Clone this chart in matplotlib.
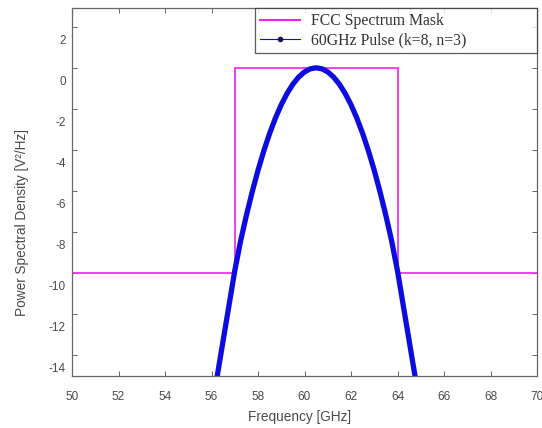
import matplotlib
matplotlib.use("Agg")
import matplotlib.pyplot as plt
from matplotlib.lines import Line2D
from matplotlib.transforms import ScaledTranslation

# FCC 60 GHz spectrum mask (normalised, dB)
mask_freq = [50.0, 57.0, 57.0, 64.0, 64.0, 70.0]
mask_level = [-10.0, -10.0, 0.0, 0.0, -10.0, -10.0]

# Power spectral density of the 60 GHz pulse (k=8, n=3)
pulse_freq = [56.0, 56.25, 56.5, 56.75, 57.0, 57.25, 57.5, 57.75, 58.0, 58.25,
              58.5, 58.75, 59.0, 59.25, 59.5, 59.75, 60.0, 60.25, 60.5, 60.75,
              61.0, 61.25, 61.5, 61.75, 62.0, 62.25, 62.5, 62.75, 63.0, 63.25,
              63.5, 63.75, 64.0, 64.25, 64.5, 64.75, 65.0]
pulse_psd = [-16.6, -15.0, -13.3, -11.6, -9.9, -8.45, -7.2, -6.05, -5.0, -4.05,
             -3.2, -2.45, -1.8, -1.25, -0.8, -0.45, -0.2, -0.05, 0.0, -0.05,
             -0.2, -0.45, -0.8, -1.25, -1.8, -2.45, -3.2, -4.05, -5.0, -6.05,
             -7.2, -8.45, -9.9, -11.6, -13.3, -15.0, -16.6]

x_ticks = [50, 52, 54, 56, 58, 60, 62, 64, 66, 68, 70]
y_ticks = [2, 0, -2, -4, -6, -8, -10, -12, -14]

mask_label = "FCC Spectrum Mask"
pulse_label = "60GHz Pulse (k=8, n=3)"

W, H, DPI = 542, 428, 100
fig = plt.figure(figsize=(W / DPI, H / DPI), dpi=DPI, facecolor="white")
ax = fig.add_axes([72 / W, 1 - 375.5 / H, 465 / W, 367.2 / H])

text_col = "#4a4a4a"
axis_col = "#666666"
mask_col = "#f020f0"
pulse_col = "#0c0ce0"

ax.plot(mask_freq, mask_level, color=mask_col, lw=1.2, solid_joinstyle="miter")
ax.plot(pulse_freq, pulse_psd, color=pulse_col, lw=3.8, solid_capstyle="butt")

ax.set_xlim(50, 70)
ax.set_ylim(-15, 2.9)
ax.set_xticks(x_ticks)
ax.set_xticklabels([str(t) for t in x_ticks])
ax.set_yticks(y_ticks)
ax.set_yticklabels([str(t) for t in y_ticks])

for s in ax.spines.values():
    s.set_color(axis_col)
    s.set_linewidth(0.9)

ax.tick_params(axis="both", direction="in", length=3.5, width=0.7,
               color=axis_col, labelcolor=text_col, labelsize=8.5,
               top=True, right=True)
ax.tick_params(axis="x", pad=11)
ax.tick_params(axis="y", pad=4.5)

for t in ax.get_xticklabels() + ax.get_yticklabels():
    t.set_family("Liberation Sans")

# y tick labels sit a little below their tick marks
shift = ScaledTranslation(0, -13 / DPI, fig.dpi_scale_trans)
for t in ax.get_yticklabels():
    t.set_transform(t.get_transform() + shift)

ax.set_xlabel("Frequency [GHz]", fontsize=9.8, color=text_col,
              family="Liberation Sans")
ax.set_ylabel("Power Spectral Density [V\u00b2/Hz]", fontsize=9.8,
              color=text_col, family="Liberation Sans")
ax.xaxis.set_label_coords(0.49, -0.113)
ax.xaxis.label.set_va("center")
ax.yaxis.set_label_coords(-0.107, 0.418)
ax.yaxis.label.set_va("center")

handles = [
    Line2D([], [], color=mask_col, lw=1.5),
    Line2D([], [], color=pulse_col, lw=0.8, marker=".", markersize=6,
           markerfacecolor="#101060", markeredgecolor="#101060"),
]
leg = ax.legend(handles, [mask_label, pulse_label], loc="upper right",
                bbox_to_anchor=(0.3935, 0.878, 0.6065, 0.122), mode="expand",
                borderaxespad=0, fancybox=False, frameon=True, numpoints=1,
                handlelength=2.6, handletextpad=0.7, borderpad=0.3,
                labelspacing=0.22,
                prop={"family": "Liberation Serif", "size": 11.3})
leg.get_frame().set_edgecolor("#333333")
leg.get_frame().set_linewidth(0.9)
for t in leg.get_texts():
    t.set_color("#333333")

fig.savefig("out.png", dpi=DPI, facecolor="white")
